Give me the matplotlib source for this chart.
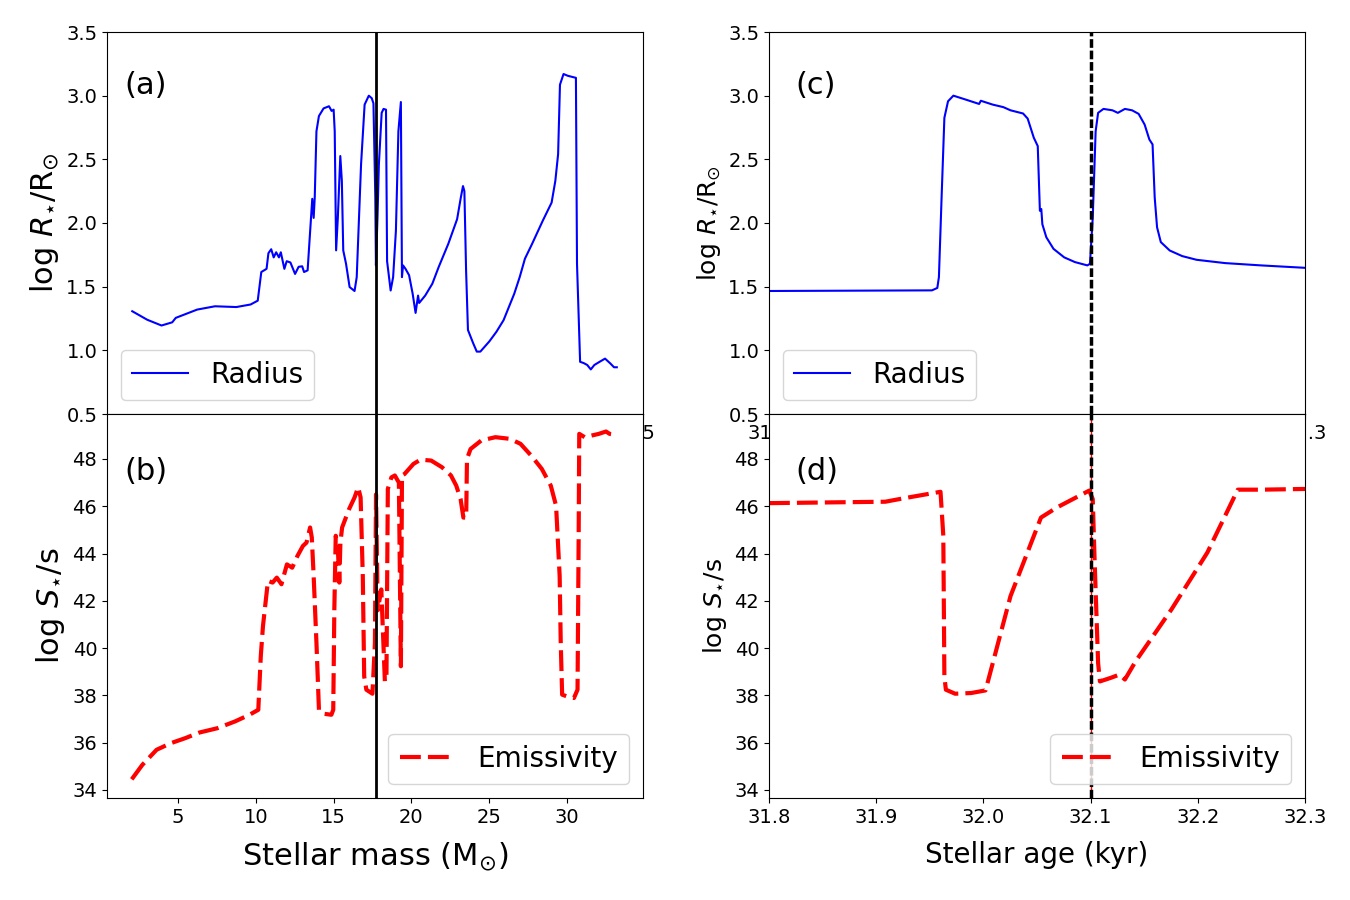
import numpy as np
import matplotlib
matplotlib.use('Agg')
import matplotlib.pyplot as plt

# ---- panel (a): radius vs stellar mass
mass_r = [2.03, 3.0, 3.92, 4.61, 4.84, 6.22, 7.37, 8.75, 9.67, 10.13, 10.36, 10.7, 10.82,
          11.0, 11.16, 11.32, 11.5, 11.62, 11.85, 12.0, 12.24, 12.54, 12.77, 13.0, 13.12,
          13.35, 13.46, 13.65, 13.74, 13.81, 13.92, 14.08, 14.38, 14.73, 14.9, 15.03, 15.1,
          15.19, 15.3, 15.46, 15.56, 15.65, 15.83, 16.06, 16.38, 16.52, 16.8, 17.03, 17.3,
          17.49, 17.6, 17.72, 17.76, 17.86, 17.95, 18.13, 18.25, 18.41, 18.48, 18.71, 18.87,
          19.05, 19.21, 19.37, 19.44, 19.51, 19.67, 19.9, 20.13, 20.32, 20.48, 20.55, 20.94,
          21.4, 21.81, 22.43, 23.0, 23.24, 23.38, 23.47, 23.58, 23.7, 24.04, 24.27, 24.5,
          25.08, 25.54, 26.0, 26.69, 27.04, 27.38, 27.84, 28.53, 29.1, 29.34, 29.52, 29.64,
          29.87, 30.15, 30.67, 30.74, 30.94, 31.17, 31.4, 31.63, 31.86, 32.2, 32.55, 32.9,
          33.13, 33.31]
radius_a = [1.307, 1.24, 1.195, 1.22, 1.255, 1.32, 1.346, 1.34, 1.36, 1.39, 1.615, 1.64, 1.763,
            1.794, 1.73, 1.77, 1.73, 1.77, 1.64, 1.70, 1.69, 1.60, 1.656, 1.66, 1.615,
            1.628, 1.836, 2.19, 2.04, 2.2, 2.72, 2.84, 2.90, 2.917, 2.88, 2.89, 2.72,
            1.785, 2.04, 2.526, 2.33, 1.785, 1.68, 1.497, 1.466, 1.575, 2.46, 2.93, 3.0,
            2.98, 2.94, 2.2, 1.667, 2.04, 2.46, 2.865, 2.896, 2.89, 1.70, 1.47, 1.575,
            1.94, 2.72, 2.95, 1.575, 1.667, 1.64, 1.59, 1.445, 1.294, 1.43, 1.372, 1.43,
            1.523, 1.654, 1.836, 2.03, 2.20, 2.29, 2.25, 1.628, 1.16, 1.055, 0.99, 0.99,
            1.07, 1.146, 1.237, 1.445, 1.575, 1.72, 1.836, 2.018, 2.16, 2.33, 2.54, 3.086,
            3.17, 3.156, 3.14, 1.68, 0.91, 0.90, 0.885, 0.85, 0.885, 0.91, 0.935, 0.896,
            0.867, 0.867]

# ---- panel (b): emissivity vs stellar mass
mass_s = [2.02, 2.7, 3.62, 4.54, 5.46, 6.38, 7.52, 8.67, 9.59, 10.16, 10.32, 10.46, 10.78,
          11.08, 11.35, 11.65, 12.0, 12.34, 12.68, 13.03, 13.26, 13.49, 13.6, 13.72, 13.9,
          14.06, 14.4, 14.86, 14.98, 15.05, 15.14, 15.28, 15.37, 15.44, 15.55, 16.0, 16.35,
          16.58, 16.74, 16.88, 16.97, 17.11, 17.5, 17.66, 17.73, 17.84, 18.07, 18.3, 18.4,
          18.49, 18.72, 18.94, 19.2, 19.33, 19.4, 19.56, 20.14, 20.6, 21.28, 21.97, 22.55,
          22.89, 23.17, 23.35, 23.53, 23.58, 23.81, 24.5, 25.41, 26.33, 27.02, 27.71, 28.39,
          28.97, 29.31, 29.54, 29.61, 29.7, 30.0, 30.46, 30.69, 30.76, 30.8, 31.15, 31.6,
          32.06, 32.52, 32.75, 33.17]
emiss_b = [34.45, 35.06, 35.7, 35.98, 36.19, 36.43, 36.61, 36.9, 37.18, 37.39, 39.66, 40.93, 42.84,
           42.77, 42.98, 42.7, 43.54, 43.4, 43.9, 44.32, 44.46, 45.1, 44.68, 43.05, 40.22,
           37.39, 37.22, 37.18, 37.39, 41.64, 44.75, 44.18, 42.77, 44.46, 45.1, 45.88, 46.37,
           46.8, 46.37, 43.05, 38.8, 38.24, 38.07, 40.2, 46.5, 41.6, 42.48, 38.6, 38.67,
           46.73, 47.22, 47.3, 47.0, 39.23, 47.3, 47.36, 47.79, 47.97, 47.93, 47.65, 47.3,
           46.87, 46.3, 45.52, 45.52, 48.0, 48.42, 48.78, 48.92, 48.85, 48.64, 48.14, 47.58,
           46.87, 46.02, 43.05, 40.22, 38.03, 37.96, 37.89, 38.24, 44.46, 49.06, 48.92, 48.99,
           49.06, 49.16, 49.06, 49.02]

# ---- panel (c): radius vs stellar age
age_r = [31.8, 31.952, 31.957, 31.9585, 31.961, 31.9636, 31.967, 31.972, 31.9836, 31.996,
         31.9976, 32.0086, 32.0186, 32.0253, 32.037, 32.0413, 32.047, 32.0507, 32.0527,
         32.054, 32.055, 32.0587, 32.0654, 32.0754, 32.0854, 32.097, 32.0994, 32.102,
         32.1047, 32.107, 32.112, 32.1204, 32.1254, 32.132, 32.1387, 32.1448, 32.1504,
         32.1548, 32.1578, 32.1598, 32.162, 32.1655, 32.1738, 32.1855, 32.1989, 32.2256,
         32.259, 32.3]
radius_c = [1.466, 1.471, 1.49, 1.575, 2.2, 2.826, 2.956, 3.0, 2.969, 2.935,
            2.96, 2.93, 2.91, 2.885, 2.86, 2.82, 2.67, 2.604, 2.096,
            2.11, 1.99, 1.888, 1.797, 1.73, 1.693, 1.667, 1.68, 2.044,
            2.72, 2.865, 2.896, 2.885, 2.865, 2.896, 2.885, 2.857, 2.773,
            2.656, 2.617, 2.2, 1.966, 1.85, 1.784, 1.74, 1.711, 1.685,
            1.667, 1.648]

# ---- panel (d): emissivity vs stellar age
age_s = [31.8, 31.9085, 31.925, 31.96, 31.9626, 31.9636, 31.965, 31.9736, 31.9886, 32.002,
         32.0253, 32.0537, 32.0687, 32.0987, 32.102, 32.1037, 32.107, 32.1087, 32.1187,
         32.127, 32.132, 32.142, 32.1755, 32.2089, 32.2373, 32.259, 32.3]
emiss_d = [46.13, 46.19, 46.33, 46.61, 44.75, 38.8, 38.24, 38.07, 38.1, 38.21,
           42.2, 45.52, 45.95, 46.66, 46.3, 43.76, 39.37, 38.59, 38.74,
           38.88, 38.67, 39.44, 41.64, 44.04, 46.7, 46.7, 46.73]

mass_mark = 17.75
age_mark = 32.1

fig = plt.figure(figsize=(13.5, 9), dpi=100)
W, H = 1350., 900.
ax_a = fig.add_axes([107/W, 1-414/H, 536/W, 382/H])
ax_c = fig.add_axes([769/W, 1-414/H, 536/W, 382/H])
ax_b = fig.add_axes([107/W, 1-798/H, 536/W, 384/H])
ax_d = fig.add_axes([769/W, 1-798/H, 536/W, 384/H])

tick_fs = 14
emis_ls = (0, (5, 1.7))
mark_ls = (0, (2.5, 0.8))

# (a)
ax_a.plot(mass_r, radius_a, color='blue', lw=1.5, label='Radius')
ax_a.axvline(mass_mark, color='black', lw=2)
ax_a.set_xlim(0.4, 35.0)
ax_a.set_ylim(0.5, 3.5)
ax_a.set_yticks(np.arange(0.5, 3.51, 0.5))
ax_a.set_ylabel(r'log $R_{\star}$/R$_{\odot}$', fontsize=22)
ax_a.legend(loc='lower left', fontsize=20)
ax_a.text(0.033, 0.86, '(a)', transform=ax_a.transAxes, fontsize=22, va='center')

# (c)
ax_c.plot(age_r, radius_c, color='blue', lw=1.5, label='Radius')
ax_c.axvline(age_mark, color='black', lw=2.5, ls=mark_ls)
ax_c.set_xlim(31.8, 32.3)
ax_c.set_ylim(0.5, 3.5)
ax_c.set_yticks(np.arange(0.5, 3.51, 0.5))
ax_c.set_xticks(np.arange(31.8, 32.31, 0.1))
ax_c.set_ylabel(r'log $R_{\star}$/R$_{\odot}$', fontsize=18)
ax_c.legend(loc='lower left', fontsize=20)
ax_c.text(0.05, 0.86, '(c)', transform=ax_c.transAxes, fontsize=22, va='center')

# (b)
ax_b.plot(mass_s, emiss_b, color='red', lw=3, ls=emis_ls, label='Emissivity')
ax_b.axvline(mass_mark, color='black', lw=2)
ax_b.set_xlim(0.43, 34.9)
ax_b.set_ylim(33.66, 49.9)
ax_b.set_yticks(np.arange(34, 49, 2))
ax_b.set_xlabel(r'Stellar mass (M$_{\odot}$)', fontsize=22, labelpad=10)
ax_b.set_ylabel(r'log $S_{\star}$/s', fontsize=22)
ax_b.legend(loc='lower right', fontsize=20)
ax_b.text(0.033, 0.85, '(b)', transform=ax_b.transAxes, fontsize=22, va='center')

# (d)
ax_d.axvline(age_mark, color='red', lw=1)
ax_d.plot(age_s, emiss_d, color='red', lw=3, ls=emis_ls, label='Emissivity')
ax_d.axvline(age_mark, color='black', lw=2.5, ls=mark_ls)
ax_d.set_xlim(31.8, 32.3)
ax_d.set_ylim(33.66, 49.9)
ax_d.set_yticks(np.arange(34, 49, 2))
ax_d.set_xticks(np.arange(31.8, 32.31, 0.1))
ax_d.set_xlabel('Stellar age (kyr)', fontsize=20, labelpad=10)
ax_d.set_ylabel(r'log $S_{\star}$/s', fontsize=18)
ax_d.legend(loc='lower right', fontsize=20)
ax_d.text(0.05, 0.85, '(d)', transform=ax_d.transAxes, fontsize=22, va='center')

for ax in (ax_a, ax_b, ax_c, ax_d):
    ax.tick_params(labelsize=tick_fs)

fig.savefig('out.png', dpi=100)
